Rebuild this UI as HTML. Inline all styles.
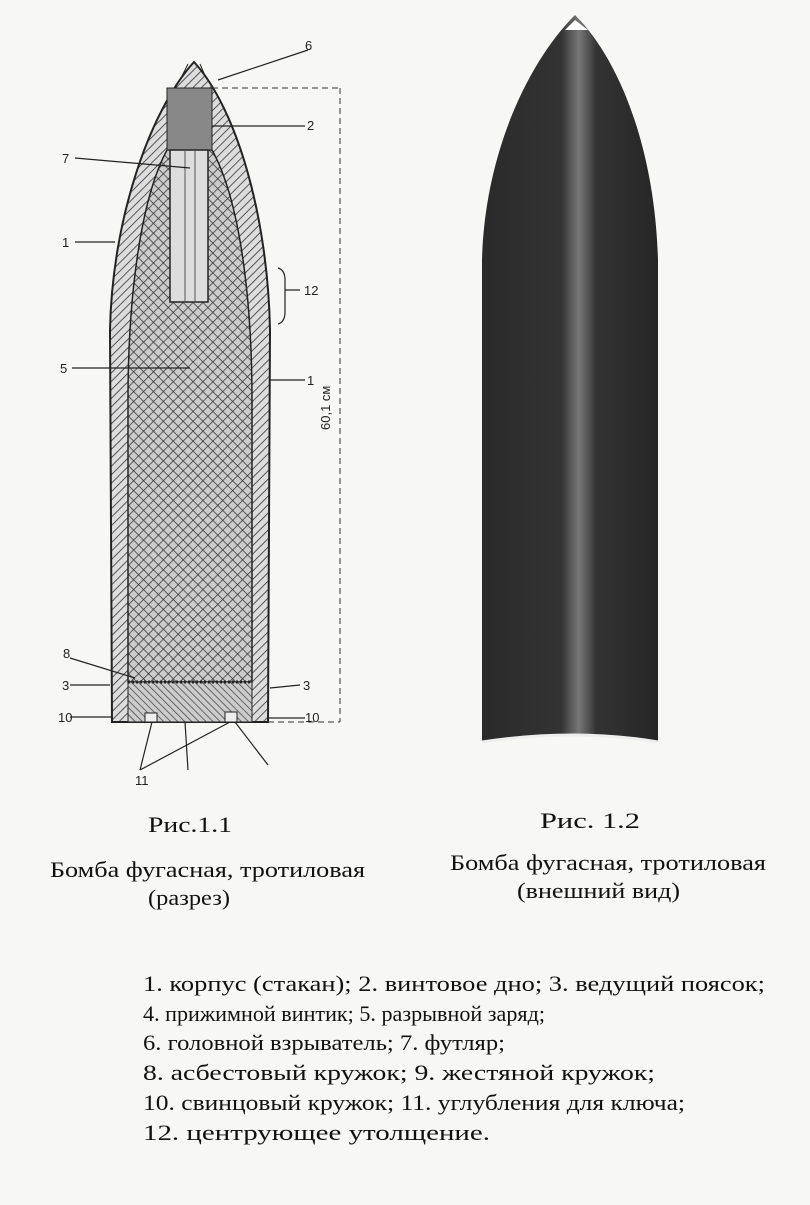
<!DOCTYPE html>
<html><head><meta charset="utf-8"><style>
body{margin:0;background:#f7f7f5;}
.t{font-family:"Liberation Serif",serif;font-size:22px;fill:#111}
.s{font-family:"Liberation Sans",sans-serif;font-size:13px;fill:#222}
</style></head><body>
<svg width="810" height="1200" xmlns="http://www.w3.org/2000/svg">
<defs>
<pattern id="h" width="6" height="6" patternUnits="userSpaceOnUse" patternTransform="rotate(45)">
<rect width="6" height="6" fill="#ddd"/><line x1="0" y1="0" x2="0" y2="6" stroke="#333" stroke-width="1.6"/></pattern>
<pattern id="x" width="7" height="7" patternUnits="userSpaceOnUse" patternTransform="rotate(45)">
<rect width="7" height="7" fill="#ccc"/><line x1="0" y1="0" x2="0" y2="7" stroke="#333" stroke-width="1.5"/><line x1="0" y1="0" x2="7" y2="0" stroke="#333" stroke-width="1.5"/></pattern>
<pattern id="hb" width="5" height="5" patternUnits="userSpaceOnUse" patternTransform="rotate(-45)">
<rect width="5" height="5" fill="#ccc"/><line x1="0" y1="0" x2="0" y2="5" stroke="#444" stroke-width="1.5"/></pattern>
<linearGradient id="g" x1="0" x2="1"><stop offset="0" stop-color="#2a2a2a"/><stop offset=".45" stop-color="#333"/><stop offset=".55" stop-color="#777"/><stop offset=".65" stop-color="#333"/><stop offset="1" stop-color="#262626"/></linearGradient>
</defs>
<path d="M194,62 C150,110 112,220 110,330 L112,722 L268,722 L270,330 C268,220 238,110 194,62 Z" fill="url(#h)" stroke="#222" stroke-width="2"/>
<path d="M167,150 C140,200 128,300 128,400 L128,682 L252,682 L252,400 C252,300 240,200 212,150 Z" fill="url(#x)" stroke="#222" stroke-width="1.5"/>
<rect x="167" y="88" width="45" height="62" fill="#888" stroke="#222"/>
<rect x="170" y="150" width="38" height="152" fill="#ddd" stroke="#222" stroke-width="1.5"/>
<line x1="185" y1="150" x2="185" y2="302" stroke="#555"/><line x1="195" y1="150" x2="195" y2="302" stroke="#555"/>
<path d="M181,78 L188,64 M200,64 L206,78" stroke="#222" fill="none"/>
<rect x="128" y="682" width="124" height="40" fill="url(#hb)" stroke="#222"/>
<line x1="128" y1="682" x2="252" y2="682" stroke="#222" stroke-width="3" stroke-dasharray="2 2"/>
<rect x="145" y="713" width="12" height="9" fill="#eee" stroke="#222"/><rect x="225" y="712" width="12" height="10" fill="#eee" stroke="#222"/>
<path d="M212,88 L340,88 M340,88 L340,722 M268,722 L340,722" stroke="#333" stroke-dasharray="6 4" fill="none"/>
<text class="s" transform="translate(330,430) rotate(-90)">60,1 см</text>
<g stroke="#222" fill="none" stroke-width="1.2">
<path d="M218,80 L308,50 M212,126 L305,126 M75,158 L190,168 M75,242 L115,242 M278,268 Q285,270 285,280 L285,312 Q285,322 278,324 M285,290 L300,290 M72,368 L190,368 M270,380 L305,380 M70,658 L135,678 M70,685 L110,685 M70,717 L112,717 M270,688 L300,685 M268,718 L305,718 M152,722 L140,770 M230,722 L140,770 M185,722 L188,770 M235,722 L268,765"/>
</g>
<g class="s"><text x="305" y="50">6</text><text x="307" y="130">2</text><text x="62" y="163">7</text><text x="62" y="247">1</text><text x="304" y="295">12</text><text x="60" y="373">5</text><text x="307" y="385">1</text><text x="63" y="658">8</text><text x="62" y="690">3</text><text x="303" y="690">3</text><text x="58" y="722">10</text><text x="305" y="722">10</text><text x="135" y="785">11</text></g>
<path d="M575,15 C530,60 485,150 482,260 L482,742 Q575,728 658,742 L658,260 C655,150 620,60 575,15 Z" fill="url(#g)"/>
<path d="M565,30 L575,20 L588,30 Z" fill="#fff"/>
<path d="M482,742 Q575,728 658,742" stroke="#eee" stroke-width="3" fill="none"/>
<text class="t" x="148" y="832" textLength="84" lengthAdjust="spacingAndGlyphs">Рис.1.1</text>
<text class="t" x="50" y="877" textLength="315" lengthAdjust="spacingAndGlyphs">Бомба фугасная, тротиловая</text>
<text class="t" x="148" y="905" textLength="82" lengthAdjust="spacingAndGlyphs">(разрез)</text>
<text class="t" x="540" y="828" textLength="100" lengthAdjust="spacingAndGlyphs">Рис. 1.2</text>
<text class="t" x="450" y="870" textLength="316" lengthAdjust="spacingAndGlyphs">Бомба фугасная, тротиловая</text>
<text class="t" x="517" y="898" textLength="163" lengthAdjust="spacingAndGlyphs">(внешний вид)</text>
<g class="t">
<text x="143" y="991" textLength="622" lengthAdjust="spacingAndGlyphs">1.  корпус (стакан); 2. винтовое дно; 3. ведущий поясок;</text>
<text x="143" y="1021" textLength="402" lengthAdjust="spacingAndGlyphs">4. прижимной винтик; 5. разрывной заряд;</text>
<text x="143" y="1050" textLength="362" lengthAdjust="spacingAndGlyphs">6. головной взрыватель; 7. футляр;</text>
<text x="143" y="1080" textLength="512" lengthAdjust="spacingAndGlyphs">8. асбестовый кружок; 9. жестяной кружок;</text>
<text x="143" y="1110" textLength="542" lengthAdjust="spacingAndGlyphs">10. свинцовый кружок; 11. углубления для ключа;</text>
<text x="143" y="1140" textLength="347" lengthAdjust="spacingAndGlyphs">12. центрующее утолщение.</text>
</g>
</svg>
</body></html>
